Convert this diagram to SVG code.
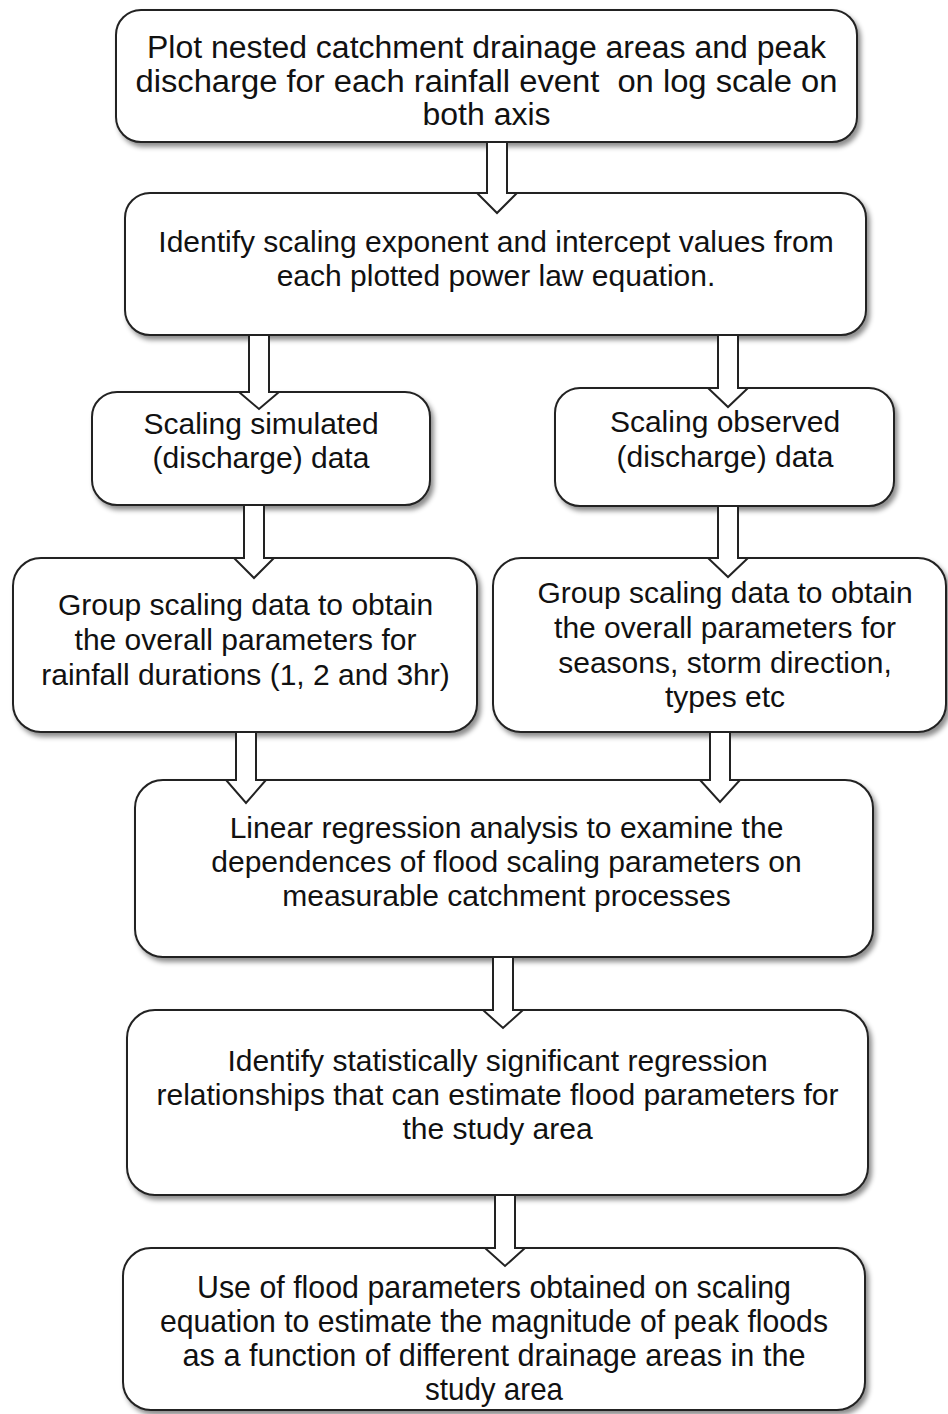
<svg xmlns="http://www.w3.org/2000/svg" width="948" height="1414" viewBox="0 0 948 1414">
<style>
.box{fill:#fff;stroke:#222;stroke-width:2;filter:url(#sh)}
.arr{fill:#fff;stroke:#222;stroke-width:2;stroke-linejoin:miter}
text{font-family:"Liberation Sans",Arial,sans-serif;font-size:30px;fill:#111;text-anchor:middle}
.nar{font-size:31px}
.nar9{font-size:32px}
</style>
<defs>
<filter id="sh" x="-5%" y="-5%" width="115%" height="125%">
<feDropShadow dx="3" dy="4" stdDeviation="2.5" flood-color="#000" flood-opacity="0.45"/>
</filter>
</defs>
<rect width="948" height="1414" fill="#fff"/>
<g id="n1"><rect class="box" x="116" y="10" width="741" height="132" rx="25"/>
<text class="nar" x="486.5" y="58" textLength="679" lengthAdjust="spacingAndGlyphs">Plot nested catchment drainage areas and peak</text>
<text class="nar" x="486.5" y="91.5" textLength="702" lengthAdjust="spacingAndGlyphs" xml:space="preserve">discharge for each rainfall event  on log scale on</text>
<text class="nar" x="486.5" y="125" textLength="128" lengthAdjust="spacingAndGlyphs">both axis</text></g>
<g id="n2"><rect class="box" x="125" y="193" width="741" height="142" rx="25"/>
<text x="496" y="252">Identify scaling exponent and intercept values from</text>
<text x="496" y="286">each plotted power law equation.</text></g>
<g id="n3"><rect class="box" x="92" y="392" width="338" height="113" rx="25"/>
<text x="261" y="434">Scaling simulated</text>
<text x="261" y="468">(discharge) data</text></g>
<g id="n4"><rect class="box" x="555" y="388" width="339" height="118" rx="25"/>
<text x="725" y="432">Scaling observed</text>
<text x="725" y="467">(discharge) data</text></g>
<g id="n5"><rect class="box" x="13" y="558" width="464" height="174" rx="28"/>
<text x="245.5" y="615">Group scaling data to obtain</text>
<text x="245.5" y="650">the overall parameters for</text>
<text x="245.5" y="685">rainfall durations (1, 2 and 3hr)</text></g>
<g id="n6"><rect class="box" x="493" y="558" width="453" height="174" rx="28"/>
<text x="725" y="603">Group scaling data to obtain</text>
<text x="725" y="638">the overall parameters for</text>
<text x="725" y="673">seasons, storm direction,</text>
<text x="725" y="707">types etc</text></g>
<g id="n7"><rect class="box" x="135" y="780" width="738" height="177" rx="28"/>
<text x="506.5" y="838">Linear regression analysis to examine the</text>
<text x="506.5" y="872">dependences of flood scaling parameters on</text>
<text x="506.5" y="906">measurable catchment processes</text></g>
<g id="n8"><rect class="box" x="127" y="1010" width="741" height="185" rx="28"/>
<text x="497.5" y="1071">Identify statistically significant regression</text>
<text x="497.5" y="1105">relationships that can estimate flood parameters for</text>
<text x="497.5" y="1139">the study area</text></g>
<g id="n9"><rect class="box" x="123" y="1248" width="742" height="162" rx="28"/>
<text class="nar9" x="494" y="1298" textLength="594" lengthAdjust="spacingAndGlyphs">Use of flood parameters obtained on scaling</text>
<text class="nar9" x="494" y="1332" textLength="668" lengthAdjust="spacingAndGlyphs">equation to estimate the magnitude of peak floods</text>
<text class="nar9" x="494" y="1366" textLength="623" lengthAdjust="spacingAndGlyphs">as a function of different drainage areas in the</text>
<text class="nar9" x="494" y="1400" textLength="138" lengthAdjust="spacingAndGlyphs">study area</text></g>
<g id="connectors">
<path class="arr" d="M487,142 H507 V193 H517 L497,213 L477,193 H487 Z"/>
<path class="arr" d="M249,335 H269 V392 H279 L259,409 L239,392 H249 Z"/>
<path class="arr" d="M718,335 H738 V388 H748 L728,407 L708,388 H718 Z"/>
<path class="arr" d="M244,505 H264 V558 H274 L254,578 L234,558 H244 Z"/>
<path class="arr" d="M718,506 H738 V558 H748 L728,577 L708,558 H718 Z"/>
<path class="arr" d="M236,732 H256 V780 H266 L246,803 L226,780 H236 Z"/>
<path class="arr" d="M710,732 H730 V780 H740 L720,802 L700,780 H710 Z"/>
<path class="arr" d="M493,957 H513 V1010 H523 L503,1028 L483,1010 H493 Z"/>
<path class="arr" d="M495,1195 H515 V1248 H525 L505,1266 L485,1248 H495 Z"/>
</g>
</svg>
